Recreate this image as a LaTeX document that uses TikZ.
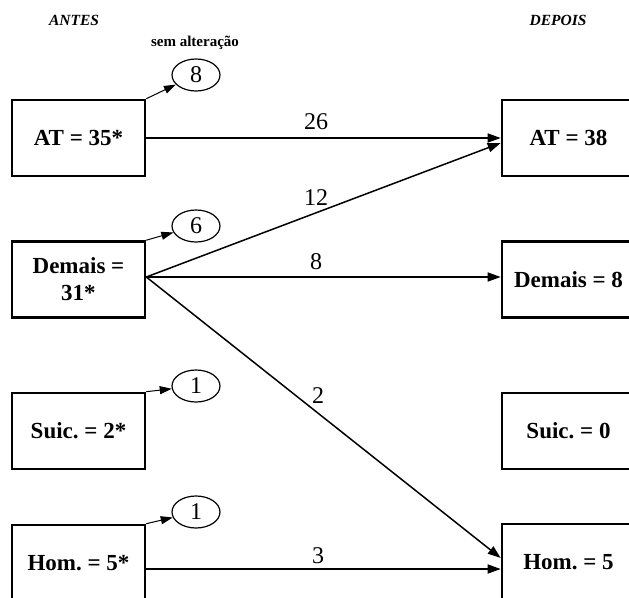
\documentclass[tikz,border=0pt]{standalone}
\usepackage{fontspec}
\setmainfont{Liberation Serif}
\frenchspacing
\usetikzlibrary{arrows.meta,shapes.geometric}
\tikzset{
  box/.style={draw, line width=2.6pt, minimum width=133pt, minimum height=76pt, inner sep=0pt, align=center, font=\fontsize{23}{27}\selectfont\bfseries},
  oval/.style={ellipse, draw, line width=1.2pt, minimum width=48pt, minimum height=32pt, inner sep=0pt, font=\fontsize{24}{26}\selectfont},
  conn/.style={line width=1.5pt, -{Triangle[length=13pt,width=9pt]}},
  thin conn/.style={line width=1pt, -{Triangle[length=12pt,width=8pt]}},
  lbl/.style={font=\fontsize{24}{26}\selectfont, inner sep=0pt},
  head/.style={font=\fontsize{15.5}{17}\selectfont\bfseries\itshape, inner sep=0pt}
}
\begin{document}
\begin{tikzpicture}[x=1pt,y=-1pt]
\useasboundingbox (0,0) rectangle (629,597);
\clip (0,0) rectangle (629,597);
\node[head] (antes) at (74,20) {ANTES};
\node[head] (depois) at (558,20) {DEPOIS};
\node[font=\fontsize{15}{17}\selectfont\bfseries, inner sep=0pt] (sem) at (195,43) {sem alteração};
% left boxes
\node[box] (at1) at (78.5,138) {AT = 35*};
\node[box] (dm1) at (78.5,279.5) {Demais =\\31*};
\node[box] (su1) at (78.5,431) {Suic.\ = 2*};
\node[box] (hm1) at (78.5,563) {Hom.\ = 5*};
% right boxes
\node[box] (at2) at (568.5,138) {AT = 38};
\node[box] (dm2) at (568.5,279.5) {Demais = 8};
\node[box] (su2) at (568.5,431) {Suic.\ = 0};
\node[box] (hm2) at (568.5,562) {Hom.\ = 5};
% ovals
\node[oval] (e8) at (196,75) {8};
\node[oval] (e6) at (196,226) {6};
\node[oval] (e1a) at (196,386) {1};
\node[oval] (e1b) at (196,512) {1};
\draw[thin conn] (at1.north east) -- (e8);
\draw[thin conn] (dm1.north east) -- (e6);
\draw[thin conn] (su1.north east) -- (e1a);
\draw[thin conn] (hm1.north east) -- (e1b);
% connectors
\draw[conn] (at1.east) -- (at2.west);
\draw[conn] ([yshift=2.5pt]dm1.east) -- ([yshift=-5pt]at2.west);
\draw[conn] ([yshift=2.5pt]dm1.east) -- ([yshift=2.5pt]dm2.west);
\draw[conn] ([yshift=2.5pt]dm1.east) -- ([yshift=4pt]hm2.west);
\draw[conn] ([yshift=-6pt]hm1.east) -- ([yshift=-7pt]hm2.west);
% labels
\node[lbl] (l26) at (316,122) {26};
\node[lbl] (l12) at (316,198) {12};
\node[lbl] (l8) at (316,262) {8};
\node[lbl] (l2) at (318,396) {2};
\node[lbl] (l3) at (318,556) {3};
\end{tikzpicture}
\end{document}
